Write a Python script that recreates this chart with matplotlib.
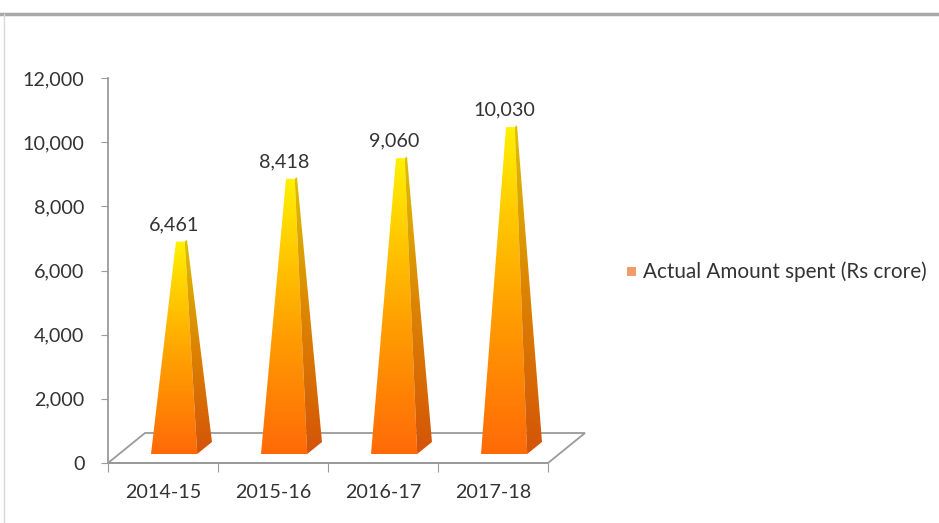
import numpy as np
import matplotlib.pyplot as plt
from matplotlib.patches import Polygon, Rectangle
from matplotlib.colors import LinearSegmentedColormap
from matplotlib.lines import Line2D

plt.rcParams['font.family'] = ['Lato', 'DejaVu Sans']

# Data
years = ['2014-15', '2015-16', '2016-17', '2017-18']
amount = [6461, 8418, 9060, 10030]
value_labels = ['6,461', '8,418', '9,060', '10,030']
yticks = [0, 2000, 4000, 6000, 8000, 10000, 12000]
legend_label = 'Actual Amount spent (Rs crore)'

W, H = 939, 523
fig = plt.figure(figsize=(W / 100, H / 100), dpi=100)
ax = fig.add_axes([108 / W, 60 / H, 484 / W, 385 / H])

# oblique depth offset (category units, value units)
DX = 37 / 110
DY = 30 * 12000 / 385

grey = '#9a9a9a'
txt = '#333333'
fs = 14.2

# floor
floor = Polygon([(0, 0), (4, 0), (4 + DX, DY), (DX, DY)], closed=True,
                facecolor='white', edgecolor=grey, lw=1.3, zorder=1, clip_on=False)
ax.add_patch(floor)

front_cmap = LinearSegmentedColormap.from_list(
    'front', [(0, '#FF6A08'), (0.45, '#FFA000'), (1, '#FFF000')])
side_cmap = LinearSegmentedColormap.from_list(
    'side', [(0, '#D45408'), (0.5, '#DC8400'), (1, '#DEC000')])


def grad_fill(pts, cmap):
    patch = Polygon(pts, closed=True, facecolor='none', edgecolor='none', clip_on=False)
    ax.add_patch(patch)
    xs = [p[0] for p in pts]
    ys = [p[1] for p in pts]
    grad = np.linspace(0, 1, 256).reshape(-1, 1)
    im = ax.imshow(grad, extent=(min(xs), max(xs), min(ys), max(ys)), origin='lower',
                   cmap=cmap, aspect='auto', zorder=3, interpolation='bilinear')
    im.set_clip_path(patch)


hw = 0.21
tw = 0.04
for i, v in enumerate(amount):
    cx = i + 0.5
    front = [(cx - hw + 0.3 * DX, 0.3 * DY), (cx + hw + 0.3 * DX, 0.3 * DY),
             (cx + tw + 0.47 * DX, v + 0.47 * DY), (cx - tw + 0.47 * DX, v + 0.47 * DY)]
    side = [(cx + hw + 0.3 * DX, 0.3 * DY), (cx + hw + 0.7 * DX, 0.7 * DY),
            (cx + tw + 0.53 * DX, v + 0.53 * DY), (cx + tw + 0.47 * DX, v + 0.47 * DY)]
    grad_fill(front, front_cmap)
    grad_fill(side, side_cmap)
    ax.annotate(value_labels[i], xy=(cx + 0.3 * DX, v + 0.5 * DY), xytext=(0, 11.5),
                textcoords='offset points', ha='center', va='center',
                fontsize=fs, color=txt)

ax.set_xlim(0, 4.4)
ax.set_ylim(0, 12000)

# axes
ax.set_yticks(yticks)
ax.set_yticklabels([f'{t:,}' for t in yticks])
ax.tick_params(axis='y', direction='out', length=5, pad=12, color=grey,
               labelcolor=txt, labelsize=fs)
ax.set_xticks([0, 1, 2, 3, 4])
ax.set_xticklabels([])
ax.set_xticks([0.5, 1.5, 2.5, 3.5], minor=True)
ax.set_xticklabels(years, minor=True)
ax.tick_params(axis='x', which='major', direction='out', length=6.5, color=grey)
ax.tick_params(axis='x', which='minor', length=0, pad=15, labelcolor=txt, labelsize=fs)

for s in ['top', 'right']:
    ax.spines[s].set_visible(False)
ax.spines['left'].set_bounds(0, 12000)
ax.spines['bottom'].set_bounds(0, 4)
for s in ['left', 'bottom']:
    ax.spines[s].set_color(grey)
    ax.spines[s].set_linewidth(1.3)
ax.patch.set_alpha(0)

# legend
fig.patches.append(Rectangle((627 / W, 1 - 276 / H), 9 / W, 9 / H,
                             transform=fig.transFigure, facecolor='#F39A6A',
                             edgecolor='none'))
fig.text(643 / W, 1 - 272 / H, legend_label, ha='left', va='center',
         fontsize=14.9, color=txt)

# container border
fig.add_artist(Line2D([0, 1], [1 - 14 / H, 1 - 14 / H], transform=fig.transFigure,
                      color='#A8A8A8', lw=2.5))
fig.add_artist(Line2D([4 / W, 4 / W], [0, 1 - 14 / H], transform=fig.transFigure,
                      color='#D8D8D8', lw=1))

fig.savefig('out.png', dpi=100)
